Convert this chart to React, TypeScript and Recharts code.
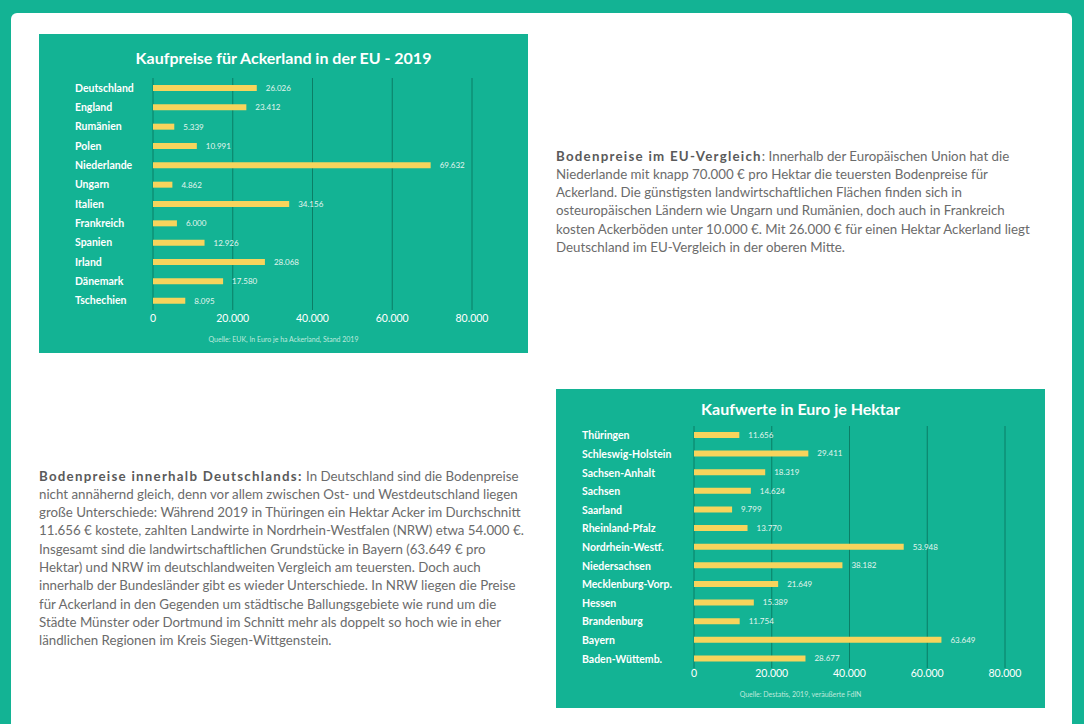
import React from 'react';
import { BarChart, Bar, XAxis, YAxis, CartesianGrid, LabelList } from 'recharts';

// EU-Vergleich
const euCountries = ['Deutschland', 'England', 'Rumänien', 'Polen', 'Niederlande', 'Ungarn', 'Italien', 'Frankreich', 'Spanien', 'Irland', 'Dänemark', 'Tschechien'];
const euPrices = [26026, 23412, 5339, 10991, 69632, 4862, 34156, 6000, 12926, 28068, 17580, 8095];

// Bundesländer
const deStates = ['Thüringen', 'Schleswig-Holstein', 'Sachsen-Anhalt', 'Sachsen', 'Saarland', 'Rheinland-Pfalz', 'Nordrhein-Westf.', 'Niedersachsen', 'Mecklenburg-Vorp.', 'Hessen', 'Brandenburg', 'Bayern', 'Baden-Wüttemb.'];
const dePrices = [11656, 29411, 18319, 14624, 9799, 13770, 53948, 38182, 21649, 15389, 11754, 63649, 28677];

const xTicks = [0, 20000, 40000, 60000, 80000];

const GREEN = '#13b394';
const GRID = '#0b7e66';
const YELLOW = '#f7d45c';
const FONT = 'Lato, "Open Sans", sans-serif';

const fmt = (v: number) => String(v).replace(/\B(?=(\d{3})+(?!\d))/g, '.');

const euData = euCountries.map((name, i) => ({ name, value: euPrices[i] }));
const deData = deStates.map((name, i) => ({ name, value: dePrices[i] }));

const LeftTick = ({ y, payload, labelX }: any) => (
  <text x={labelX} y={y} textAnchor="start" dominantBaseline="central" fill="#fff" fontSize={10.5} fontWeight={700} fontFamily={FONT}>
    {payload.value}
  </text>
);

interface PanelProps {
  left: number;
  top: number;
  width: number;
  height: number;
  title: string;
  titleY: number;
  source: string;
  sourceY: number;
  data: { name: string; value: number }[];
  margin: { top: number; right: number; bottom: number; left: number };
  yWidth: number;
  labelX: number;
  xHeight: number;
  tickMargin: number;
}

const Panel = (p: PanelProps) => (
  <div style={{ position: 'absolute', left: p.left, top: p.top, width: p.width, height: p.height, background: GREEN, fontFamily: FONT }}>
    <div style={{ position: 'absolute', left: 0, width: p.width, top: p.titleY - 10, height: 20, lineHeight: '20px', textAlign: 'center', color: '#fff', fontSize: 16, fontWeight: 700 }}>
      {p.title}
    </div>
    <BarChart width={p.width} height={p.height} data={p.data} layout="vertical" margin={p.margin}>
      <CartesianGrid horizontal={false} stroke={GRID} strokeWidth={1} />
      <XAxis
        type="number"
        domain={[0, 80000]}
        ticks={xTicks}
        tickFormatter={fmt}
        axisLine={false}
        tickLine={false}
        tickSize={0}
        tickMargin={p.tickMargin}
        height={p.xHeight}
        tick={{ fill: '#fff', fontSize: 10.5, fontFamily: FONT }}
        interval={0}
      />
      <YAxis
        type="category"
        dataKey="name"
        axisLine={false}
        tickLine={false}
        width={p.yWidth}
        interval={0}
        tick={<LeftTick labelX={p.labelX} />}
      />
      <Bar dataKey="value" fill={YELLOW} barSize={6} isAnimationActive={false}>
        <LabelList dataKey="value" position="right" offset={9} formatter={fmt} fill="#e3f5ef" fontSize={8} fontFamily={FONT} />
      </Bar>
    </BarChart>
    <div style={{ position: 'absolute', left: 0, width: p.width, top: p.sourceY - 6, height: 12, lineHeight: '12px', textAlign: 'center', color: '#bfe9dc', fontSize: 7 }}>
      {p.source}
    </div>
  </div>
);

const textStyle: React.CSSProperties = {
  position: 'absolute',
  fontFamily: FONT,
  fontSize: 13.3,
  lineHeight: '18.3px',
  color: '#6b6b6b',
  whiteSpace: 'nowrap',
};

const headStyle: React.CSSProperties = { fontWeight: 700, letterSpacing: 1.25, color: '#5a5a5a' };

const euLines = [
  'Niederlande mit knapp 70.000 € pro Hektar die teuersten Bodenpreise für',
  'Ackerland. Die günstigsten landwirtschaftlichen Flächen finden sich in',
  'osteuropäischen Ländern wie Ungarn und Rumänien, doch auch in Frankreich',
  'kosten Ackerböden unter 10.000 €. Mit 26.000 € für einen Hektar Ackerland liegt',
  'Deutschland im EU-Vergleich in der oberen Mitte.',
];

const deLines = [
  'nicht annähernd gleich, denn vor allem zwischen Ost- und Westdeutschland liegen',
  'große Unterschiede: Während 2019 in Thüringen ein Hektar Acker im Durchschnitt',
  '11.656 € kostete, zahlten Landwirte in Nordrhein-Westfalen (NRW) etwa 54.000 €.',
  'Insgesamt sind die landwirtschaftlichen Grundstücke in Bayern (63.649 € pro',
  'Hektar) und NRW im deutschlandweiten Vergleich am teuersten. Doch auch',
  'innerhalb der Bundesländer gibt es wieder Unterschiede. In NRW liegen die Preise',
  'für Ackerland in den Gegenden um städtische Ballungsgebiete wie rund um die',
  'Städte Münster oder Dortmund im Schnitt mehr als doppelt so hoch wie in eher',
  'ländlichen Regionen im Kreis Siegen-Wittgenstein.',
];

export default function App() {
  return (
    <div style={{ position: 'absolute', left: 0, top: 0, width: 1084, height: 724, background: GREEN, overflow: 'hidden' }}>
      <div style={{ position: 'absolute', left: 11, top: 13, width: 1061, height: 740, background: '#fff', borderRadius: 6 }} />

      <Panel
        left={39}
        top={34}
        width={489}
        height={319}
        title="Kaufpreise für Ackerland in der EU - 2019"
        titleY={24}
        source="Quelle: EUK, In Euro je ha Ackerland, Stand 2019"
        sourceY={305}
        data={euData}
        margin={{ top: 44, right: 56, bottom: 13, left: 0 }}
        yWidth={114}
        labelX={36}
        xHeight={30}
        tickMargin={5}
      />

      <div style={{ ...textStyle, left: 556, top: 146.5 }}>
        <div>
          <span style={headStyle}>Bodenpreise im EU-Vergleich</span>: Innerhalb der Europäischen Union hat die
        </div>
        {euLines.map((l) => (
          <div key={l}>{l}</div>
        ))}
      </div>

      <div style={{ ...textStyle, left: 39, top: 466.5 }}>
        <div>
          <span style={headStyle}>Bodenpreise innerhalb Deutschlands:</span> In Deutschland sind die Bodenpreise
        </div>
        {deLines.map((l) => (
          <div key={l}>{l}</div>
        ))}
      </div>

      <Panel
        left={556}
        top={389}
        width={489}
        height={319}
        title="Kaufwerte in Euro je Hektar"
        titleY={20}
        source="Quelle: Destatis, 2019, veräußerte FdlN"
        sourceY={305}
        data={deData}
        margin={{ top: 37, right: 40, bottom: 10, left: 0 }}
        yWidth={138}
        labelX={26}
        xHeight={30}
        tickMargin={2}
      />
    </div>
  );
}
